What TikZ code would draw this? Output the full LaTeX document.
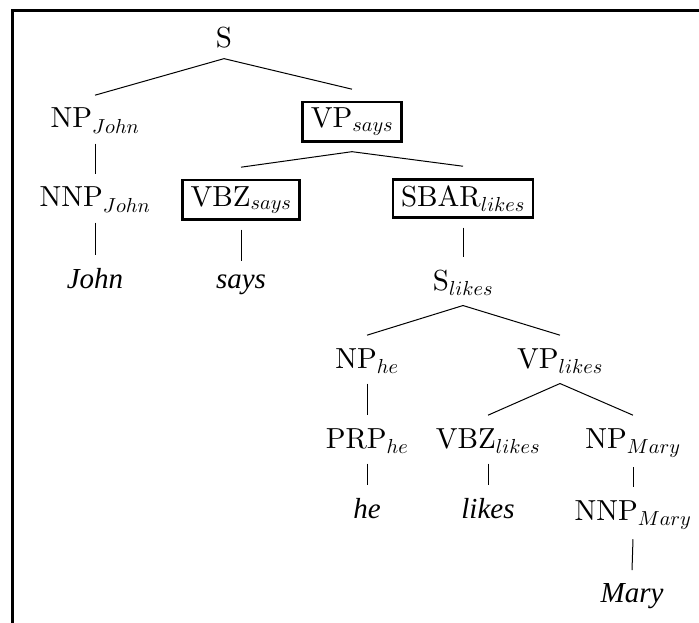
\documentclass[tikz,border=0pt]{standalone}
\usepackage{fontspec}
% design-size 10 Latin Modern, scaled up
\setmainfont{lmroman10-regular}[Extension=.otf, ItalicFont=lmroman10-italic, BoldFont=lmroman10-bold]
\newfontfamily\wordfont{Liberation Serif}[UprightFont=* Italic]
% scalable math italic for the large subscripts
\DeclareFontFamily{OML}{cmm}{\skewchar\font127}
\DeclareFontShape{OML}{cmm}{m}{it}{<-> cmmi10}{}
\newcommand\treesize{\fontsize{29}{34}\selectfont}
\tikzset{
  cat/.style={anchor=base, inner xsep=8pt, inner ysep=6pt, outer sep=0pt, font=\treesize},
  head/.style={cat, draw, line width=2.6pt, outer sep=6pt},
  word/.style={anchor=base, inner sep=6pt, outer sep=0pt, font=\treesize\wordfont},
  branch/.style={line width=1pt},
  frame/.style={line width=2.8pt},
}
\begin{document}
\treesize
\begin{tikzpicture}[x=1pt,y=-1pt]
\useasboundingbox (0,0) rectangle (699,623);
% open frame: left and top rules only
\draw[frame] (12.5,640) -- (12.5,10.3) -- (715,10.3);

% categories
\node[cat]  (S)    at (224,48)  {S};
\node[cat]  (NPj)  at (95,128)  {NP$_{John}$};
\node[head] (VPs)  at (352,128) {VP$_{says}$};
\node[cat]  (NNPj) at (95,207)  {NNP$_{John}$};
\node[head] (VBZs) at (241,206) {VBZ$_{says}$};
\node[head] (SBAR) at (463,206) {SBAR$_{likes}$};
\node[cat]  (Sl)   at (463,290) {S$_{likes}$};
\node[cat]  (NPhe) at (367,368) {NP$_{he}$};
\node[cat]  (VPl)  at (560,368) {VP$_{likes}$};
\node[cat]  (PRP)  at (367,448) {PRP$_{he}$};
\node[cat]  (VBZl) at (488,448) {VBZ$_{likes}$};
\node[cat]  (NPm)  at (633,448) {NP$_{Mary}$};
\node[cat]  (NNPm) at (633,520) {NNP$_{Mary}$};

% words
\node[word] (John)  at (95,288)  {John};
\node[word] (says)  at (241,288) {says};
\node[word] (he)    at (367,518) {he};
\node[word] (likes) at (488,518) {likes};
\node[word] (Mary)  at (632,602) {Mary};

% branches
\foreach \p/\c in {S/NPj, S/VPs, NPj/NNPj, NNPj/John, VPs/VBZs, VPs/SBAR,
                   VBZs/says, SBAR/Sl, Sl/NPhe, Sl/VPl, NPhe/PRP, PRP/he,
                   VPl/VBZl, VPl/NPm, VBZl/likes, NPm/NNPm, NNPm/Mary}
  \draw[branch] ([yshift=-4pt]\p.south) -- ([yshift=7pt]\c.north);
\end{tikzpicture}
\end{document}
